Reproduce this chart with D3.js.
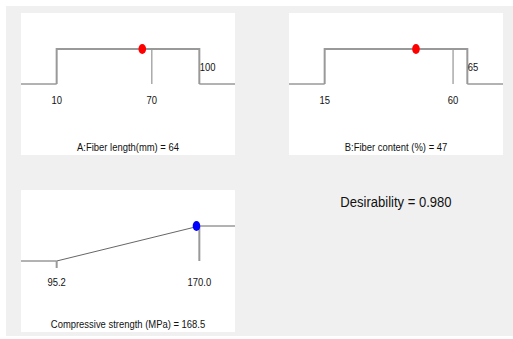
<!DOCTYPE html>
<html>
<head>
<meta charset="utf-8">
<script src="https://d3js.org/d3.v7.min.js"></script>
<style>
  body { margin: 0; background: #fff; }
  svg text { font-family: "Liberation Sans", Arial, sans-serif; fill: #111; }
</style>
</head>
<body>
<svg id="chart" width="513" height="339"></svg>
<script>
// factor ramps
var factorNames = ["A:Fiber length(mm)", "B:Fiber content (%)"];
var factorLow = [10, 15];
var factorHigh = [100, 65];
var factorMid = [70, 60];
var factorSetting = [64, 47];

// response ramp
var responseName = "Compressive strength (MPa)";
var responseLow = 95.2;
var responseHigh = 170.0;
var responseValue = 168.5;
var desirability = 0.980;

var svg = d3.select("#chart");

svg.append("rect")
  .attr("x", 6).attr("y", 6)
  .attr("width", 507).attr("height", 330)
  .attr("fill", "#f0f0f0");

var pw = 214, ph = 142;
var topY = 36, baseY = 71;
var panelPos = [[21, 13], [289, 13], [21, 190]];

function makePanel(i) {
  var g = svg.append("g")
    .attr("transform", "translate(" + panelPos[i][0] + "," + panelPos[i][1] + ")");
  g.append("rect").attr("width", pw).attr("height", ph).attr("fill", "#fff");
  return g;
}

function xScale(lo, hi) {
  return d3.scaleLinear().domain([lo, hi]).range([pw / 6, pw * 5 / 6]);
}

var y = d3.scaleLinear().domain([0, 1]).range([baseY, topY]);

function label(g, x, yy, txt, anchor, size) {
  g.append("text")
    .attr("transform", "translate(" + x + "," + yy + ") scale(0.9,1)")
    .attr("text-anchor", anchor)
    .style("font-size", (size || 10.5) + "px")
    .text(txt);
}

factorNames.forEach(function(name, i) {
  var g = makePanel(i);
  var x = xScale(factorLow[i], factorHigh[i]);
  var lo = x(factorLow[i]), hi = x(factorHigh[i]);

  // baseline outside the range
  g.append("path")
    .attr("d", "M0," + y(0) + "H" + lo + "M" + hi + "," + y(0) + "H" + pw)
    .attr("stroke", "#666").attr("stroke-width", 1).attr("fill", "none");
  // mid marker
  g.append("line")
    .attr("x1", x(factorMid[i])).attr("x2", x(factorMid[i]))
    .attr("y1", y(1)).attr("y2", y(0))
    .attr("stroke", "#aaa").attr("stroke-width", 1.5);
  // ramp
  g.append("path")
    .attr("d", "M" + lo + "," + y(0) + "V" + y(1) + "H" + hi + "V" + y(0))
    .attr("stroke", "#999").attr("stroke-width", 2).attr("fill", "none");
  // setting
  g.append("ellipse")
    .attr("cx", x(factorSetting[i])).attr("cy", y(1))
    .attr("rx", 3.8).attr("ry", 5)
    .attr("fill", "#f00");

  label(g, lo, 91, factorLow[i], "middle");
  label(g, x(factorMid[i]), 91, factorMid[i], "middle");
  label(g, hi + 0.5, 58, factorHigh[i], "start");
  label(g, pw / 2, 137.5, name + " = " + factorSetting[i], "middle");
});

// response panel
var g3 = makePanel(2);
var xr = xScale(responseLow, responseHigh);
g3.append("path")
  .attr("d", d3.line()([[0, y(0)], [xr(responseLow), y(0)], [xr(responseHigh), y(1)], [pw, y(1)]]))
  .attr("stroke", "#666").attr("stroke-width", 1).attr("fill", "none");
g3.append("line")
  .attr("x1", xr(responseHigh)).attr("x2", xr(responseHigh))
  .attr("y1", y(1)).attr("y2", y(0))
  .attr("stroke", "#999").attr("stroke-width", 2);
g3.append("line")
  .attr("x1", xr(responseLow)).attr("x2", xr(responseLow))
  .attr("y1", y(0)).attr("y2", y(0) + 7)
  .attr("stroke", "#999").attr("stroke-width", 2);
g3.append("ellipse")
  .attr("cx", xr(responseValue)).attr("cy", y(1))
  .attr("rx", 3.8).attr("ry", 5)
  .attr("fill", "#00f");
label(g3, xr(responseLow), 96, d3.format(".1f")(responseLow), "middle");
label(g3, xr(responseHigh), 96, d3.format(".1f")(responseHigh), "middle");
label(g3, pw / 2, 138, responseName + " = " + responseValue, "middle");

label(svg, 396, 207, "Desirability = " + d3.format(".3f")(desirability), "middle", 14.5);
</script>
</body>
</html>
